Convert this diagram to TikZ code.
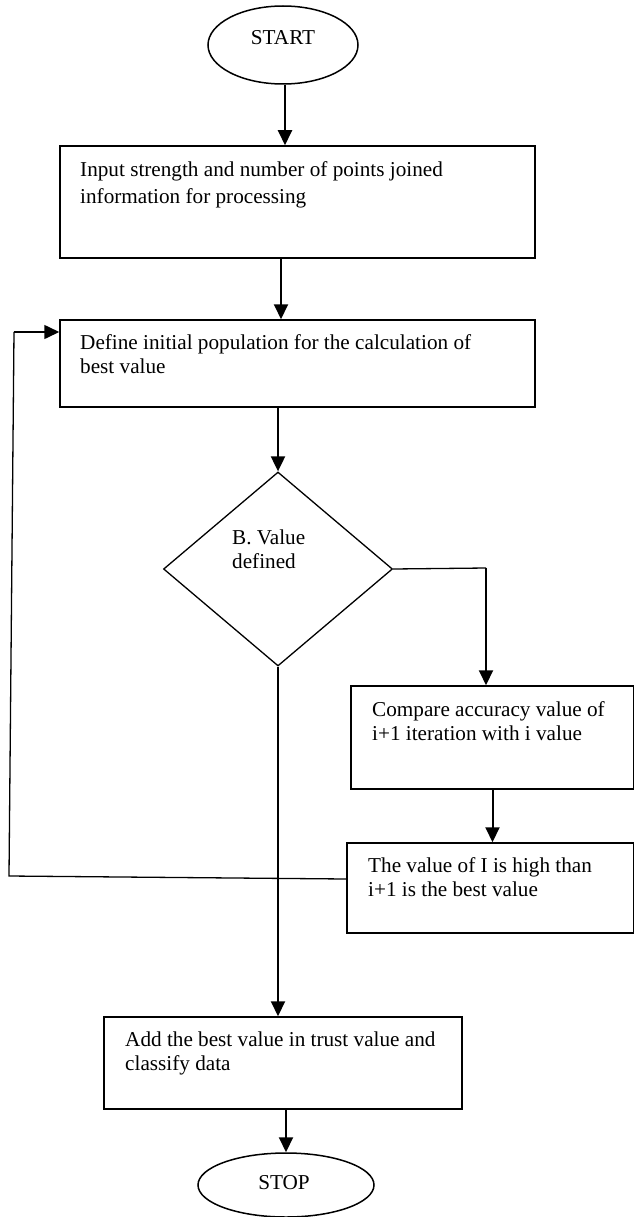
\documentclass[tikz,border=0pt]{standalone}
\usepackage{fontspec}
\setmainfont{Liberation Serif}
\usetikzlibrary{shapes.geometric,arrows.meta}
\begin{document}
\begin{tikzpicture}[x=1pt,y=-1pt,
  box/.style={draw, line width=1.5pt, rectangle, inner sep=0pt},
  term/.style={draw, line width=1.5pt, ellipse, inner sep=0pt},
  dia/.style={draw, line width=1.3pt, diamond, inner sep=0pt},
  txt/.style={anchor=base west, align=left, inner sep=0pt, font=\fontsize{21.2}{23.5}\selectfont},
  ctxt/.style={anchor=base, inner sep=0pt, font=\fontsize{21.2}{23.5}\selectfont},
  arr/.style={line width=2pt, -{Triangle[width=14pt,length=15pt]}},
  ln/.style={line width=1.3pt}]
\useasboundingbox (0,0) rectangle (633,1217);

% terminals
\node[term, minimum width=150pt, minimum height=78pt] (start) at (283,45) {};
\node[ctxt] (starttxt) at (283,45) {START};
\node[term, minimum width=176pt, minimum height=64pt] (stop) at (286,1185) {};
\node[ctxt] (stoptxt) at (284,1189) {STOP};

% process boxes (text anchored at baseline of last line)
\node[box, minimum width=475pt, minimum height=112pt] (b1) at (297.5,202) {};
\node[txt, font=\fontsize{21.2}{27}\selectfont] (t1) at (80,204) {Input strength and number of points joined\\information for processing};

\node[box, minimum width=475pt, minimum height=87pt] (b2) at (297.5,363.5) {};
\node[txt, font=\fontsize{21.2}{24}\selectfont] (t2) at (80,373) {Define initial population for the calculation of\\best value};

\node[dia, minimum width=229pt, minimum height=194pt] (dec) at (278,569) {};
\node[txt, font=\fontsize{21.2}{24}\selectfont] (td) at (232,568) {B. Value\\defined};

\node[box, minimum width=283pt, minimum height=103pt] (b3) at (492.5,737.5) {};
\node[txt] (t3) at (372,740) {Compare accuracy value of\\i+1 iteration with i value};

\node[box, minimum width=287pt, minimum height=90pt] (b4) at (490.5,888) {};
\node[txt] (t4) at (368,896) {The value of I is high than\\i+1 is the best value};

\node[box, minimum width=358pt, minimum height=92pt] (b5) at (283,1063) {};
\node[txt] (t5) at (125,1070) {Add the best value in trust value and\\classify data};

% helper coordinates
\coordinate (turn) at (486,568);
\coordinate (fbB) at (9,876);
\coordinate (fbT) at (14,332);

% connectors
\draw[arr] ([xshift=2pt]start.south) -- ([xshift=2pt]start.south |- b1.north);
\draw[arr] ([xshift=-16.5pt]b1.south) -- ([xshift=-16.5pt]b2.north);
\draw[arr] (b2.south -| dec.north) -- (dec.north);
\draw[ln] (dec.east) -- (turn);
\draw[arr] (turn) -- (turn |- b3.north);
\draw[arr] (b3.south) -- (b3.south |- b4.north);
\draw[ln] ([yshift=9pt]b4.west) -- (fbB) -- (fbT);
\draw[arr, line width=1.6pt] (fbT) -- (fbT -| b2.west);
\draw[arr] (dec.south) -- (dec.south |- b5.north);
\draw[arr] (stop.north |- b5.south) -- (stop.north);
\end{tikzpicture}
\end{document}
